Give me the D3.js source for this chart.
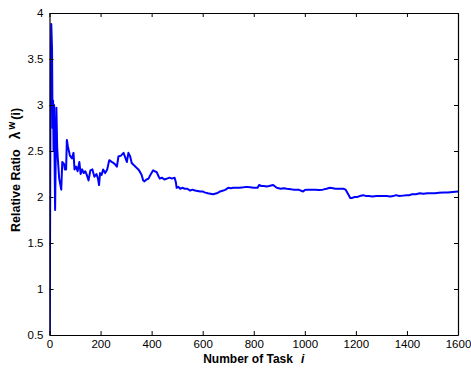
<!DOCTYPE html>
<html><head><meta charset="utf-8">
<script src="https://cdn.jsdelivr.net/npm/d3@7"></script>
<style>body{margin:0;background:#fff}svg{display:block}text{white-space:pre}</style>
</head><body>
<script>
const taskIndex = [1,4,7,10,12,14,16,18,20,22,25,27,30,33,38,46,50,57,60,65,68,72,80,88,94,98,104,110,117,122,128,134,140,146,153,160,168,176,184,190,194,198,204,210,218,226,234,245,255,264,270,280,290,298,303,309,316,322,329,340,348,355,361,367,372,380,388,395,406,412,420,428,432,440,450,460,470,480,490,495,498,505,512,520,530,540,551,560,570,580,590,600,607,620,630,641,655,662,668,681,690,700,710,720,735,745,760,772,785,800,815,821,830,840,850,860,876,890,905,918,930,945,955,965,975,993,1000,1010,1025,1040,1055,1070,1085,1098,1110,1120,1135,1151,1160,1170,1178,1186,1195,1205,1215,1229,1240,1250,1265,1280,1300,1320,1335,1346,1357,1370,1385,1398,1410,1420,1435,1450,1465,1480,1495,1510,1525,1542,1560,1580,1600];
const ratio = [0.5,3.2,3.88,3.6,2.75,3.05,2.5,3.0,2.37,1.86,2.6,2.97,2.54,2.4,2.2,2.08,2.38,2.36,2.3,2.3,2.62,2.55,2.45,2.42,2.48,2.3,2.33,2.28,2.38,2.25,2.3,2.26,2.28,2.24,2.18,2.29,2.3,2.22,2.25,2.2,2.13,2.26,2.24,2.3,2.26,2.3,2.40,2.38,2.36,2.33,2.44,2.45,2.48,2.42,2.38,2.48,2.44,2.37,2.35,2.32,2.3,2.27,2.24,2.18,2.17,2.19,2.2,2.24,2.29,2.28,2.27,2.22,2.2,2.21,2.19,2.2,2.21,2.2,2.21,2.16,2.1,2.11,2.09,2.1,2.09,2.09,2.07,2.08,2.07,2.065,2.06,2.06,2.05,2.04,2.035,2.03,2.04,2.05,2.06,2.07,2.08,2.1,2.095,2.1,2.1,2.1,2.105,2.11,2.105,2.1,2.1,2.13,2.12,2.12,2.115,2.12,2.13,2.1,2.09,2.095,2.09,2.085,2.08,2.08,2.08,2.06,2.075,2.08,2.08,2.08,2.075,2.08,2.09,2.1,2.095,2.09,2.09,2.09,2.08,2.03,1.99,1.99,2.0,2.0,2.01,2.02,2.01,2.01,2.005,2.01,2.01,2.01,2.005,2.01,2.02,2.01,2.015,2.02,2.02,2.03,2.03,2.04,2.035,2.04,2.04,2.04,2.045,2.05,2.05,2.055,2.06];
const xTicks = [0,200,400,600,800,1000,1200,1400,1600];
const yTicks = [0.5,1,1.5,2,2.5,3,3.5,4];

const W = 471, H = 369;
const m = {left:49.5, right:13, top:13, bottom:34};
const svg = d3.select("body").append("svg").attr("width",W).attr("height",H);
const x = d3.scaleLinear().domain([0,1600]).range([m.left, W-m.right]);
const y = d3.scaleLinear().domain([0.5,4]).range([H-m.bottom, m.top]);
const font = "'Liberation Sans', Arial, Helvetica, sans-serif";

svg.append("defs").append("clipPath").attr("id","clip").append("rect")
  .attr("x",m.left).attr("y",m.top).attr("width",x(1600)-m.left).attr("height",y(0.5)-m.top);

const data = taskIndex.map((d,i)=>[d,ratio[i]]);
svg.append("path").datum(data)
  .attr("clip-path","url(#clip)")
  .attr("fill","none").attr("stroke","#0000ff").attr("stroke-width",2)
  .attr("stroke-linejoin","round")
  .attr("d", d3.line().x(d=>x(d[0])).y(d=>y(d[1])));

// axes
const tl = 4;
const gB = svg.append("g").attr("transform",`translate(0,${y(0.5)})`)
  .call(d3.axisBottom(x).tickValues(xTicks).tickSizeInner(-tl).tickSizeOuter(0).tickPadding(5).tickFormat(d3.format("d")));
const gT = svg.append("g").attr("transform",`translate(0,${y(4)})`)
  .call(d3.axisTop(x).tickValues(xTicks).tickSizeInner(-tl).tickSizeOuter(0).tickFormat(""));
const gL = svg.append("g").attr("transform",`translate(${x(0)},0)`)
  .call(d3.axisLeft(y).tickValues(yTicks).tickSizeInner(-tl).tickSizeOuter(0).tickPadding(6).tickFormat(d=>String(d)));
const gR = svg.append("g").attr("transform",`translate(${x(1600)},0)`)
  .call(d3.axisRight(y).tickValues(yTicks).tickSizeInner(-tl).tickSizeOuter(0).tickFormat(""));
[gB,gT,gL,gR].forEach(g=>{
  g.select(".domain").attr("stroke","#000").attr("stroke-width",1.2);
  g.selectAll(".tick line").attr("stroke","#000");
  g.selectAll("text").attr("font-family",font).attr("font-size",11.5).attr("fill","#000");
});

// labels
svg.append("text").attr("x", x(800)).attr("y", 363)
  .attr("text-anchor","middle").attr("font-family",font).attr("font-size",12).attr("font-weight","bold")
  .call(t=>{t.append("tspan").text("Number of Task");
            t.append("tspan").attr("dx",8).attr("font-style","italic").text("i");});

const yl = svg.append("text").attr("transform",`translate(20,232) rotate(-90)`)
  .attr("text-anchor","start").attr("font-family",font).attr("font-size",12.5).attr("font-weight","bold");
yl.append("tspan").text("Relative Ratio");
yl.append("tspan").attr("dx",10).attr("font-size",14).text("λ");
yl.append("tspan").attr("dx",2).attr("dy",-5).attr("font-size",10).text("w");
yl.append("tspan").attr("dx",2).attr("dy",5).text("(i)");
</script>
</body></html>
